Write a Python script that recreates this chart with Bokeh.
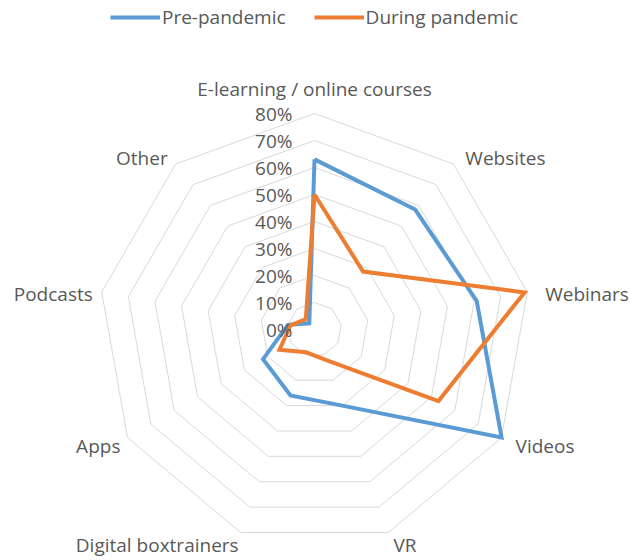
import numpy as np
from bokeh.plotting import figure
from bokeh.models import Range1d, ColumnDataSource, Legend, LegendItem
from bokeh.embed import file_html
from bokeh.resources import INLINE
from bokeh.core.properties import value

# ---------------- data ----------------
categories = ["E-learning / online courses", "Websites", "Webinars", "Videos", "VR",
              "Digital boxtrainers", "Apps", "Podcasts", "Other"]
pre_pandemic = [63, 58, 61, 80, 30, 26, 22, 10, 3]
during_pandemic = [50, 28, 79, 53, 12, 9, 15, 9, 5]
tick_values = [0, 10, 20, 30, 40, 50, 60, 70, 80]
tick_labels = ["0%", "10%", "20%", "30%", "40%", "50%", "60%", "70%", "80%"]
series_names = ["Pre-pandemic", "During pandemic"]

# ---------------- layout / style ----------------
W, H = 630, 560
SCALE = 2.7          # px per percent
CX, CY = 314, 329    # centre of radar in figure px
RMAX = 80
FONT = "Open Sans"
TXT = "#595959"
GRID = "#d9d9d9"
BLUE = "#5B9BD5"
ORANGE = "#ED7D31"
FS = "19px"

n = len(categories)
theta = np.arange(n) * 2 * np.pi / n
sx, cy = np.sin(theta), np.cos(theta)

p = figure(width=W, height=H,
           x_range=Range1d(-CX / SCALE, (W - CX) / SCALE),
           y_range=Range1d(-(H - CY) / SCALE, CY / SCALE),
           output_backend="svg", toolbar_location=None, min_border=0)
p.axis.visible = False
p.grid.visible = False
p.outline_line_color = None
p.background_fill_color = "white"
p.border_fill_color = "white"

# grid rings
ring_xs, ring_ys = [], []
for v in tick_values[1:]:
    ring_xs.append(list(np.append(v * sx, v * sx[0])))
    ring_ys.append(list(np.append(v * cy, v * cy[0])))
p.multi_line(ring_xs, ring_ys, line_color=GRID, line_width=1)

# series
def closed(vals):
    vals = np.asarray(vals, dtype=float)
    x = vals * sx
    y = vals * cy
    return list(np.append(x, x[0])), list(np.append(y, y[0]))

x1, y1 = closed(pre_pandemic)
x2, y2 = closed(during_pandemic)
r1 = p.line(x1, y1, line_color=BLUE, line_width=4, line_join="miter")
r2 = p.line(x2, y2, line_color=ORANGE, line_width=4, line_join="miter")

# tick labels
p.text(x=[0] * len(tick_values), y=tick_values, text=tick_labels,
       x_offset=-22, text_align="right", text_baseline="middle",
       text_font=value(FONT), text_font_size=FS, text_color=TXT)

# category labels
off_x = [0, 12, 18, 14, 5, -2, -7, -9, -8]
off_y = [-25, -6, 2, 8, 13, 13, 8, 2, -6]
aligns = ["center", "left", "left", "left", "left", "right", "right", "right", "right"]
lab_src = ColumnDataSource(dict(x=RMAX * sx, y=RMAX * cy, text=categories,
                                xo=off_x, yo=off_y, al=aligns))
p.text(x="x", y="y", text="text", x_offset="xo", y_offset="yo", text_align="al",
       text_baseline="middle", source=lab_src,
       text_font=value(FONT), text_font_size=FS, text_color=TXT)

legend = Legend(items=[LegendItem(label=series_names[0], renderers=[r1]),
                       LegendItem(label=series_names[1], renderers=[r2])],
                orientation="horizontal", location=(110, 530),
                glyph_width=50, glyph_height=20, label_height=20,
                label_standoff=2, spacing=28, padding=0, margin=0,
                border_line_color=None, background_fill_alpha=0,
                label_text_font=FONT, label_text_font_size=FS, label_text_color=TXT)
p.add_layout(legend)

open("out.html", "w").write(file_html(p, INLINE))
